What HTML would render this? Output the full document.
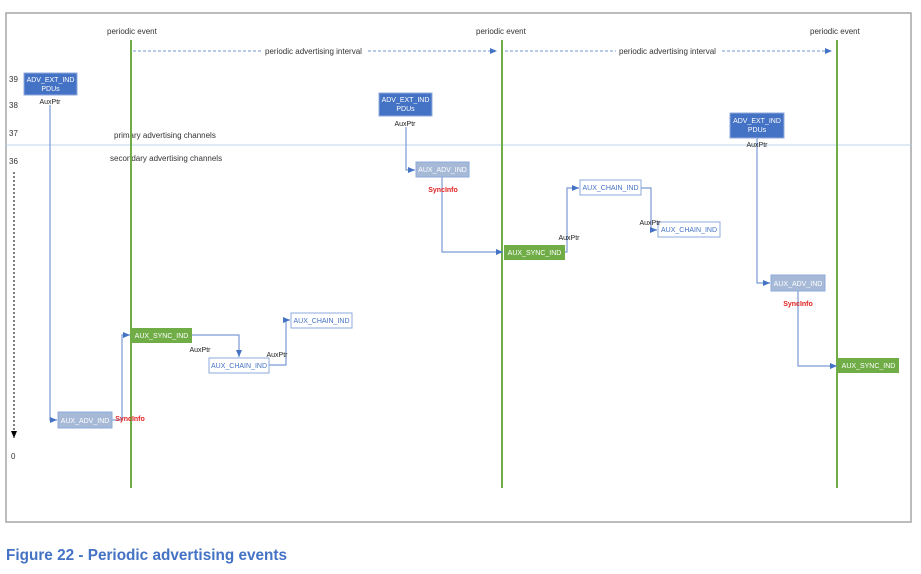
<!DOCTYPE html>
<html><head><meta charset="utf-8"><style>
body{margin:0;background:#fff;width:921px;height:569px;overflow:hidden}
svg text{font-family:"Liberation Sans",sans-serif}
</style></head><body>
<svg width="921" height="569" viewBox="0 0 921 569" xmlns="http://www.w3.org/2000/svg">
<defs>
<marker id="a" markerWidth="8" markerHeight="8" refX="7" refY="4" orient="auto" markerUnits="userSpaceOnUse"><path d="M0,1 L7,4 L0,7 z" fill="#4472C4"/></marker>
<marker id="k" markerWidth="8" markerHeight="8" refX="7" refY="4" orient="auto" markerUnits="userSpaceOnUse"><path d="M0,1 L7,4 L0,7 z" fill="#000"/></marker>
</defs>
<rect x="6" y="13" width="905" height="509" fill="#fff" stroke="#a6a6a6" stroke-width="1.5"/>
<line x1="6" y1="145" x2="911" y2="145" stroke="#bdd7ee" stroke-width="1"/>
<g font-size="8" fill="#333">
<text x="107" y="34">periodic event</text>
<text x="476" y="34">periodic event</text>
<text x="810" y="34">periodic event</text>
<text x="9" y="82">39</text><text x="9" y="108">38</text><text x="9" y="136">37</text><text x="9" y="164">36</text><text x="11" y="459">0</text>
<text x="114" y="138">primary advertising channels</text>
<text x="110" y="161">secondary advertising channels</text>
</g>
<g stroke="#70AD47" stroke-width="2"><line x1="131" y1="40" x2="131" y2="488"/><line x1="502" y1="40" x2="502" y2="488"/><line x1="837" y1="40" x2="837" y2="488"/></g>
<g stroke="#4472C4" stroke-width="0.8" stroke-dasharray="3,2" fill="none">
<line x1="133" y1="51" x2="262" y2="51"/><line x1="368" y1="51" x2="497" y2="51" marker-end="url(#a)"/>
<line x1="505" y1="51" x2="616" y2="51"/><line x1="722" y1="51" x2="832" y2="51" marker-end="url(#a)"/>
</g>
<g font-size="8" fill="#333"><text x="265" y="54">periodic advertising interval</text><text x="619" y="54">periodic advertising interval</text></g>
<line x1="14" y1="172" x2="14" y2="438" stroke="#000" stroke-width="1" stroke-dasharray="2,2" marker-end="url(#k)"/>
<g stroke="#7A9AD6" stroke-width="1.2" fill="none">
<polyline points="50,105 50,420 57,420" marker-end="url(#a)"/>
<polyline points="112,420 122,420 122,335 130,335" marker-end="url(#a)"/>
<polyline points="192,335 239,335 239,357" marker-end="url(#a)"/>
<polyline points="269,365 286,365 286,320 290,320" marker-end="url(#a)"/>
<polyline points="406,127 406,170 415,170" marker-end="url(#a)"/>
<polyline points="442,177 442,252 503,252" marker-end="url(#a)"/>
<polyline points="565,252 567,252 567,188 579,188" marker-end="url(#a)"/>
<polyline points="641,188 651,188 651,230 657,230" marker-end="url(#a)"/>
<polyline points="757,138 757,283 770,283" marker-end="url(#a)"/>
<polyline points="798,291 798,366 837,366" marker-end="url(#a)"/>
</g>
<g font-size="7" text-anchor="middle">
<rect x="24" y="73" width="53" height="22" fill="#4472C4" stroke="#8FAADC"/><text x="50.5" y="82" fill="#fff">ADV_EXT_IND</text><text x="50.5" y="91" fill="#fff">PDUs</text>
<rect x="379" y="93" width="53" height="23" fill="#4472C4" stroke="#8FAADC"/><text x="405.5" y="102" fill="#fff">ADV_EXT_IND</text><text x="405.5" y="111" fill="#fff">PDUs</text>
<rect x="730" y="113" width="54" height="25" fill="#4472C4" stroke="#8FAADC"/><text x="757" y="123" fill="#fff">ADV_EXT_IND</text><text x="757" y="132" fill="#fff">PDUs</text>
<rect x="58" y="412" width="54" height="16" fill="#A6B9D6" stroke="#8FAADC"/><text x="85" y="423" fill="#fff">AUX_ADV_IND</text>
<rect x="416" y="162" width="53" height="15" fill="#A6B9D6" stroke="#8FAADC"/><text x="442.5" y="172" fill="#fff">AUX_ADV_IND</text>
<rect x="771" y="275" width="54" height="16" fill="#A6B9D6" stroke="#8FAADC"/><text x="798" y="286" fill="#fff">AUX_ADV_IND</text>
<rect x="131" y="328" width="61" height="15" fill="#70AD47"/><text x="161.5" y="338" fill="#fff">AUX_SYNC_IND</text>
<rect x="504" y="245" width="61" height="15" fill="#70AD47"/><text x="534.5" y="255" fill="#fff">AUX_SYNC_IND</text>
<rect x="838" y="358" width="61" height="15" fill="#70AD47"/><text x="868.5" y="368" fill="#fff">AUX_SYNC_IND</text>
<g fill="#fff" stroke="#8FAADC"><rect x="209" y="358" width="60" height="15"/><rect x="291" y="313" width="61" height="15"/><rect x="580" y="180" width="61" height="15"/><rect x="658" y="222" width="62" height="15"/></g>
<g fill="#4472C4"><text x="239" y="368">AUX_CHAIN_IND</text><text x="321.5" y="323">AUX_CHAIN_IND</text><text x="610.5" y="190">AUX_CHAIN_IND</text><text x="689" y="232">AUX_CHAIN_IND</text></g>
</g>
<g font-size="7" fill="#222" text-anchor="middle">
<text x="50" y="104">AuxPtr</text><text x="405" y="126">AuxPtr</text><text x="757" y="147">AuxPtr</text>
<text x="200" y="352">AuxPtr</text><text x="277" y="357">AuxPtr</text><text x="569" y="240">AuxPtr</text><text x="650" y="225">AuxPtr</text>
</g>
<g font-size="7" fill="#e02020" font-weight="bold" text-anchor="middle">
<text x="130" y="421">SyncInfo</text><text x="443" y="192">SyncInfo</text><text x="798" y="306">SyncInfo</text>
</g>
<text x="6" y="560" font-size="16" font-weight="bold" fill="#4472C4" textLength="281" lengthAdjust="spacingAndGlyphs">Figure 22 - Periodic advertising events</text>
</svg>
</body></html>
